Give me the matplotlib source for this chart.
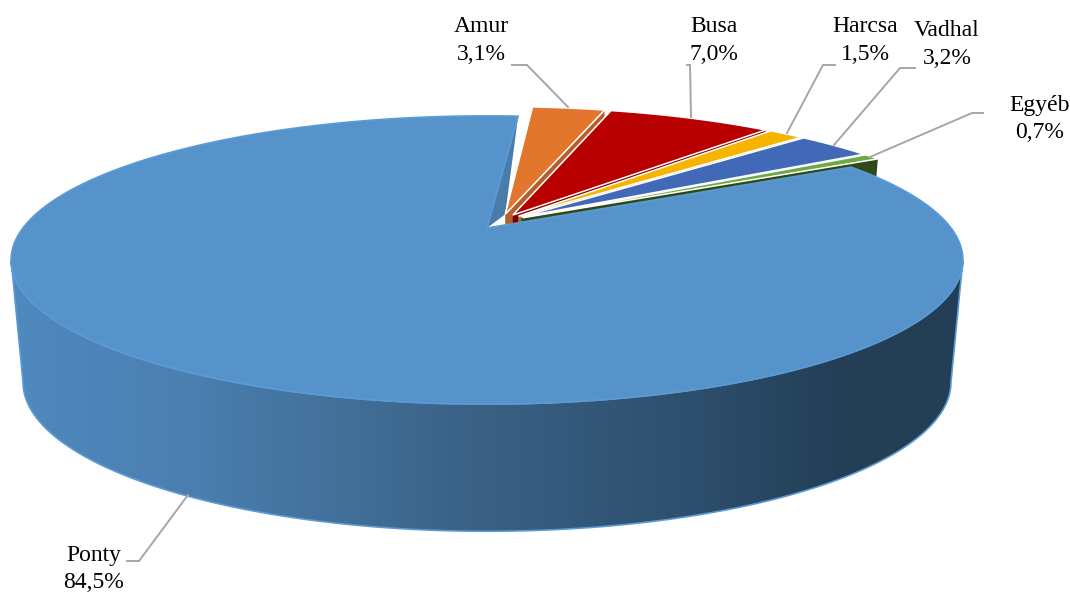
import numpy as np
import matplotlib.pyplot as plt
from matplotlib.colors import LinearSegmentedColormap
from matplotlib.patches import Polygon

labels = ['Amur', 'Busa', 'Harcsa', 'Vadhal', 'Egyéb', 'Ponty']
values = [3.1, 7.0, 1.5, 3.2, 0.7, 84.5]
top_colors = ['#E2762D', '#B80000', '#F4B400', '#4169B8', '#6DAA45', '#5693CB']
wall_colors = ['#B3602A', '#7A0000', '#B08300', '#2F4C86', '#2E4A1A', '#4A7CAB']

# label centre x, first line y, second line y
label_pos = [(481, 27, 55), (714, 27, 55), (865, 27, 55), (947, 31, 59), (1040, 105, 132), (94, 555, 582)]
leaders = [[(512, 65), (527, 65), (568, 107)],
           [(687, 65), (690, 65), (691, 117)],
           [(835, 65), (823, 65), (787, 133)],
           [(915, 68), (900, 68), (834, 145)],
           [(983, 113), (972, 113), (870, 157)],
           [(127, 561), (139, 561), (188, 495)]]

wall_x = [15, 200, 480, 700, 850, 960]
wall_c = ['#5089BF', '#4A7EAE', '#3A6184', '#2D4E6C', '#233E55', '#243F55']

start_angle = 4.7
explode = 0.056

# perspective of the tilted disc, in pixels
cx, cy = 487, 228
a, b, k = 464, 137, 0.222
depth_px, shrink, stretch = 121, 0.025, 0.035


def project(u, v, d=0):
    w = 1 + k * v
    return cx + (1 - shrink * d) * a * u / w, cy + d * depth_px - (1 + stretch * d) * b * v / w


def rim(t0, t1, ou=0, ov=0, d=0):
    t = np.radians(np.linspace(t0, t1, max(int(abs(t1 - t0) * 2), 2)))
    return project(ou + np.sin(t), ov + np.cos(t), d)


fig = plt.figure(figsize=(10.7, 5.92), dpi=100)
ax = fig.add_axes([0, 0, 1, 1])

ends = start_angle + np.cumsum(values) * 3.6
starts = ends - np.array(values) * 3.6
mids = np.radians((starts + ends) / 2)

# Ponty is the reference disc, the others are moved relative to it
off_u = explode * (np.sin(mids) - np.sin(mids[-1]))
off_v = explode * (np.cos(mids) - np.cos(mids[-1]))

# cut face of Ponty next to Amur
p0 = project(0, 0)
p1 = project(np.sin(np.radians(start_angle)), np.cos(np.radians(start_angle)))
p2 = project(off_u[0], off_v[0])
ax.add_patch(Polygon([p0, p1, p2], fc=wall_colors[5], ec='none', zorder=1))

# small slices, back to front
for i in range(5):
    t = np.radians(ends[i])
    top_apex = project(off_u[i], off_v[i])
    low_apex = project(off_u[i], off_v[i], 1)
    top_rim = project(off_u[i] + np.sin(t), off_v[i] + np.cos(t))
    low_rim = project(off_u[i] + np.sin(t), off_v[i] + np.cos(t), 1)
    ax.add_patch(Polygon([top_apex, top_rim, low_rim, low_apex], fc=wall_colors[i], ec='none', zorder=2 + i))
    xr, yr = rim(starts[i], ends[i], off_u[i], off_v[i])
    pts = [top_apex] + list(zip(xr, yr))
    ax.add_patch(Polygon(pts, fc=top_colors[i], ec='white', lw=1.1, zorder=2 + i))

# front wall of Ponty with the dark gradient
t_right = 180 - np.degrees(np.arcsin(np.sqrt(1 - k ** 2)))
t_left = 360 - t_right
xt, yt = rim(t_right, t_left)
xb, yb = rim(t_left, t_right, d=1)
wall = Polygon(list(zip(xt, yt)) + list(zip(xb, yb)), fc='none', ec='#5B9BD5', lw=1.2, zorder=10)
ax.add_patch(wall)
grad_x = np.arange(0, 1071)
cmap = LinearSegmentedColormap.from_list('wall', [((x - 15) / 945, c) for x, c in zip(wall_x, wall_c)])
grad = np.clip((grad_x - 15) / 945, 0, 1)[None, :]
im = ax.imshow(grad, cmap=cmap, vmin=0, vmax=1, extent=(0, 1070, 592, 0), aspect='auto', zorder=9)
im.set_clip_path(wall)

# Ponty top
xr, yr = rim(starts[5], ends[5])
ax.add_patch(Polygon([p0] + list(zip(xr, yr)), fc=top_colors[5], ec='#5B9BD5', lw=1.2, zorder=11))

for pts in leaders:
    xs, ys = zip(*pts)
    ax.plot(xs, ys, color='#A6A6A6', lw=1.4, zorder=12, solid_joinstyle='miter')

for name, val, (x, y1, y2) in zip(labels, values, label_pos):
    pct = f'{val:.1f}'.replace('.', ',') + '%'
    ax.text(x, y1, name, ha='center', va='center', family='Liberation Serif', fontsize=17, color='black', zorder=13)
    ax.text(x, y2, pct, ha='center', va='center', family='Liberation Serif', fontsize=17, color='black', zorder=13)

ax.set_xlim(0, 1070)
ax.set_ylim(592, 0)
ax.axis('off')
fig.savefig('out.png', dpi=100)
